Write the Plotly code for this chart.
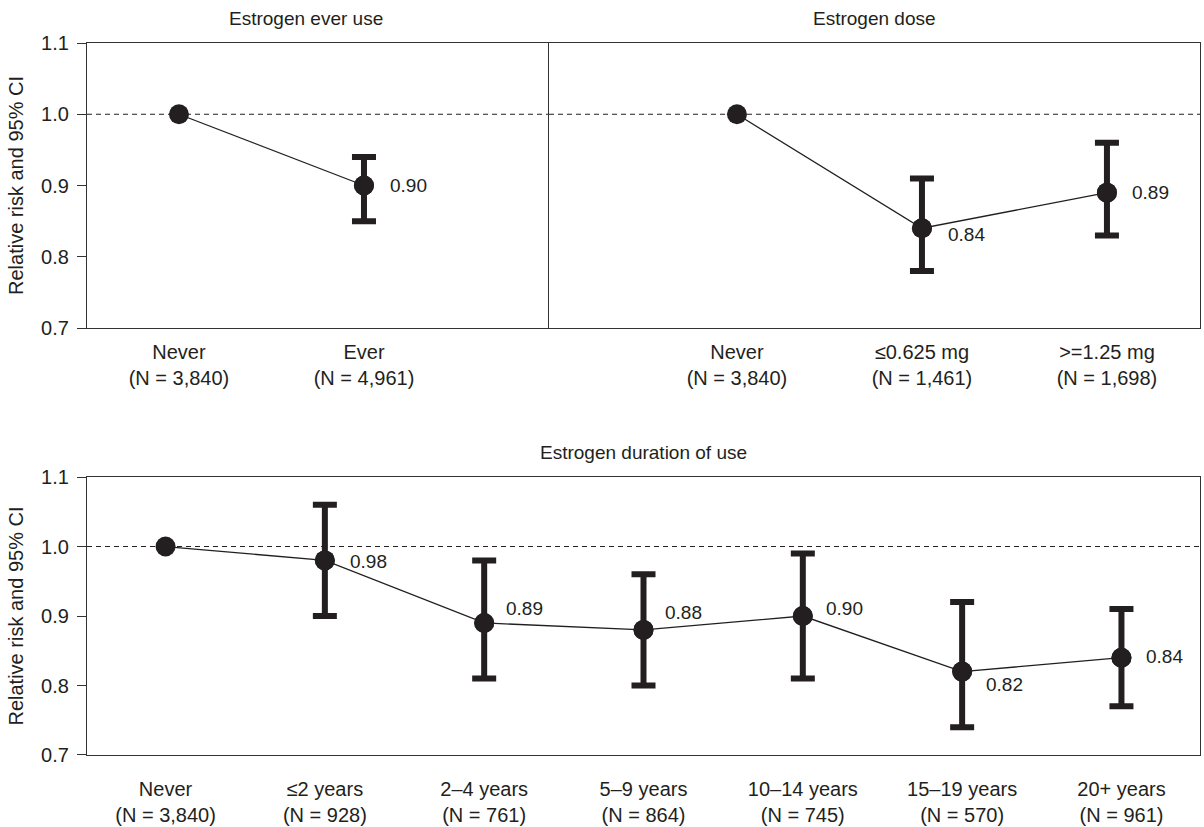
import plotly.graph_objects as go

# ---------------- data ----------------
ever_cats = ["Never", "Ever"]
ever_n = ["3,840", "4,961"]
ever_rr = [1.00, 0.90]
ever_lo = [None, 0.85]
ever_hi = [None, 0.94]

dose_cats = ["Never", "≤0.625 mg", ">=1.25 mg"]
dose_n = ["3,840", "1,461", "1,698"]
dose_rr = [1.00, 0.84, 0.89]
dose_lo = [None, 0.78, 0.83]
dose_hi = [None, 0.91, 0.96]

dur_cats = ["Never", "≤2 years", "2–4 years", "5–9 years", "10–14 years",
            "15–19 years", "20+ years"]
dur_n = ["3,840", "928", "761", "864", "745", "570", "961"]
dur_rr = [1.00, 0.98, 0.89, 0.88, 0.90, 0.82, 0.84]
dur_lo = [None, 0.90, 0.81, 0.80, 0.81, 0.74, 0.77]
dur_hi = [None, 1.06, 0.98, 0.96, 0.99, 0.92, 0.91]

panel_titles = ["Estrogen ever use", "Estrogen dose", "Estrogen duration of use"]
y_title = "Relative risk and 95% CI"
y_ticks = [0.7, 0.8, 0.9, 1.0, 1.1]

# ---------------- styles ----------------
INK = "#231f20"
FONT = "Liberation Sans, Arial, Helvetica, sans-serif"
# label offsets (px): (dx, dy up)
ever_lab = [None, (24, 0)]
dose_lab = [None, (24, -6), (23, 0)]
dur_lab = [None, (23, -1), (20, 14), (19, 17), (21, 8), (22, -13), (23, 1)]

fig = go.Figure()


def add_panel(cats, rr, lo, hi, labs, xa, ya):
    xs = list(range(len(cats)))
    fig.add_trace(go.Scatter(
        x=xs, y=rr, mode="lines+markers", xaxis=xa, yaxis=ya,
        line=dict(color=INK, width=1.3),
        marker=dict(size=20, color=INK), showlegend=False, hoverinfo="skip"))
    idx = [i for i in xs if lo[i] is not None]
    fig.add_trace(go.Scatter(
        x=idx, y=[rr[i] for i in idx], mode="markers", xaxis=xa, yaxis=ya,
        marker=dict(size=20, color=INK),
        error_y=dict(type="data", symmetric=False,
                     array=[hi[i] - rr[i] for i in idx],
                     arrayminus=[rr[i] - lo[i] for i in idx],
                     color=INK, thickness=6, width=12),
        showlegend=False, hoverinfo="skip"))
    for i in idx:
        dx, dy = labs[i]
        fig.add_annotation(x=i, y=rr[i], xref=xa, yref=ya, text=f"{rr[i]:.2f}",
                           showarrow=False, xanchor="left", yanchor="middle",
                           xshift=dx, yshift=dy,
                           font=dict(size=19, color=INK, family=FONT))
    # dashed reference line at 1.0
    fig.add_shape(type="line", xref=f"{xa} domain", yref=ya, x0=0, x1=1, y0=1.0, y1=1.0,
                  line=dict(color=INK, width=1, dash="5px,4px"), layer="below")


add_panel(ever_cats, ever_rr, ever_lo, ever_hi, ever_lab, "x", "y")
add_panel(dose_cats, dose_rr, dose_lo, dose_hi, dose_lab, "x2", "y2")
add_panel(dur_cats, dur_rr, dur_lo, dur_hi, dur_lab, "x3", "y3")


def ticktext(cats, ns):
    return [f"{c}<br>(N = {n})" for c, n in zip(cats, ns)]


split = 0.4151
top_dom = [0.5997, 1.0]
bot_dom = [0.0, 0.3904]

axis_common = dict(showline=True, linecolor="#333333", linewidth=1.3, mirror=True,
                   showgrid=False, zeroline=False,
                   tickfont=dict(size=20, color=INK, family=FONT))
xcommon = dict(axis_common, ticks="")
ycommon = dict(axis_common, range=[0.7, 1.1], tickvals=y_ticks, tickformat=".1f",
               ticks="outside", ticklen=9, tickwidth=1.2, tickcolor="#333333",
               ticklabelstandoff=4)

fig.update_layout(
    width=1204, height=827, autosize=False,
    margin=dict(l=87, r=4, t=43, b=72, autoexpand=False),
    paper_bgcolor="white", plot_bgcolor="white",
    font=dict(family=FONT, color=INK),
    xaxis=dict(xcommon, domain=[0, split], anchor="y", range=[-0.497, 2.0],
               tickvals=list(range(len(ever_cats))), ticktext=ticktext(ever_cats, ever_n),
               ticklabelstandoff=6),
    xaxis2=dict(xcommon, domain=[split, 1], anchor="y2", range=[-1.016, 2.503],
                tickvals=list(range(len(dose_cats))), ticktext=ticktext(dose_cats, dose_n),
                ticklabelstandoff=6),
    xaxis3=dict(xcommon, domain=[0, 1], anchor="y3", range=[-0.493, 6.493],
                tickvals=list(range(len(dur_cats))), ticktext=ticktext(dur_cats, dur_n),
                ticklabelstandoff=16),
    yaxis=dict(ycommon, domain=top_dom, anchor="x", mirror=False,
               title=dict(text=y_title, font=dict(size=20, color=INK, family=FONT), standoff=12)),
    yaxis2=dict(ycommon, domain=top_dom, anchor="x2", showticklabels=False, ticks=""),
    yaxis3=dict(ycommon, domain=bot_dom, anchor="x3",
                title=dict(text=y_title, font=dict(size=20, color=INK, family=FONT), standoff=12)),
)

title_pos = [(0.197, top_dom[1]), ((split + 1) / 2, top_dom[1]), (0.5, bot_dom[1])]
for t, (tx, ty) in zip(panel_titles, title_pos):
    fig.add_annotation(text=t, x=tx, y=ty, xref="paper", yref="paper",
                       xanchor="center", yanchor="bottom", yshift=12, showarrow=False,
                       font=dict(size=19, color=INK, family=FONT))

fig.write_html("out.html", config={"responsive": False, "displayModeBar": False},
               post_script="document.body.style.margin='0';document.body.style.overflow='hidden';")
